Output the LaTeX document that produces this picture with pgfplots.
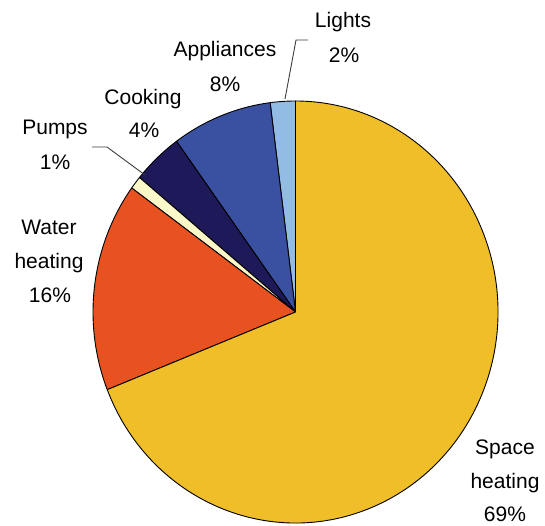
\documentclass[border=0pt]{standalone}
\usepackage{fontspec}
\setmainfont{Liberation Sans}
\usepackage{pgfplots}
\usepackage{pgfplotstable}
\pgfplotsset{compat=1.18}

\definecolor{cLights}{RGB}{146,188,228}
\definecolor{cAppl}{RGB}{58,80,160}
\definecolor{cCook}{RGB}{30,26,90}
\definecolor{cPumps}{RGB}{250,248,200}
\definecolor{cWater}{RGB}{232,82,32}
\definecolor{cSpace}{RGB}{240,190,40}
\definecolor{leader}{RGB}{60,60,60}

% shares of household energy use, counter-clockwise from 12 o'clock
\pgfplotstableread{
name value colour
Lights 2 cLights
Appliances 8 cAppl
Cooking 4 cCook
Pumps 1 cPumps
Water 16 cWater
Space 69 cSpace
}\sharetable

\newcommand\lab{\fontsize{21}{34}\selectfont}

\begin{document}
\begin{tikzpicture}
\begin{axis}[x=1pt,y=1pt,xmin=0,xmax=545,ymin=0,ymax=525,
  hide axis,clip=false]
\def\cx{295.5}\def\cy{213}\def\rx{202.5}\def\ry{211}
\pgfplotstablegetrowsof{\sharetable}
\pgfmathtruncatemacro\lastrow{\pgfplotsretval-1}
\def\startangle{90}
\pgfplotsforeachungrouped \i in {0,...,\lastrow}{%
  \pgfplotstablegetelem{\i}{value}\of\sharetable
  \let\v\pgfplotsretval
  \pgfplotstablegetelem{\i}{colour}\of\sharetable
  \let\c\pgfplotsretval
  \pgfmathsetmacro\endangle{\startangle+3.6*\v}%
  \pgfmathsetmacro\sx{\cx+\rx*cos(\startangle)}%
  \pgfmathsetmacro\sy{\cy+\ry*sin(\startangle)}%
  \edef\temp{\noexpand\filldraw[fill=\c,draw=black,line width=0.9pt,line join=round]
     (axis cs:\cx,\cy) -- (axis cs:\sx,\sy)
     arc[start angle=\startangle,end angle=\endangle,x radius=\rx,y radius=\ry] -- cycle;}%
  \temp
  \let\startangle\endangle
}

% leader lines for the two thin slices
\draw[leader,line width=0.9pt] (axis cs:285,426) -- (axis cs:296,485) -- (axis cs:308,485);
\draw[leader,line width=0.9pt] (axis cs:92,378) -- (axis cs:107,378) -- (axis cs:145,350);

% labels
\node[anchor=base,font=\lab,inner sep=0pt] at (axis cs:343,497) {Lights};
\node[anchor=base,font=\lab,inner sep=0pt] at (axis cs:344,462) {2\%};
\node[anchor=base,font=\lab,inner sep=0pt] at (axis cs:225,468) {Appliances};
\node[anchor=base,font=\lab,inner sep=0pt] at (axis cs:225,433) {8\%};
\node[anchor=base,font=\lab,inner sep=0pt] at (axis cs:143,420) {Cooking};
\node[anchor=base,font=\lab,inner sep=0pt] at (axis cs:144,387) {4\%};
\node[anchor=base,font=\lab,inner sep=0pt] at (axis cs:55,390) {Pumps};
\node[anchor=base,font=\lab,inner sep=0pt] at (axis cs:55,355) {1\%};
\node[anchor=base,font=\lab,inner sep=0pt] at (axis cs:49,290) {Water};
\node[anchor=base,font=\lab,inner sep=0pt] at (axis cs:49,257) {heating};
\node[anchor=base,font=\lab,inner sep=0pt] at (axis cs:50,223) {16\%};
\node[anchor=base,font=\lab,inner sep=0pt] at (axis cs:505,71) {Space};
\node[anchor=base,font=\lab,inner sep=0pt] at (axis cs:505,37) {heating};
\node[anchor=base,font=\lab,inner sep=0pt] at (axis cs:505,4) {69\%};
\end{axis}
\pgfresetboundingbox
\path (current axis.south west) rectangle (current axis.north east);
\end{tikzpicture}
\end{document}
